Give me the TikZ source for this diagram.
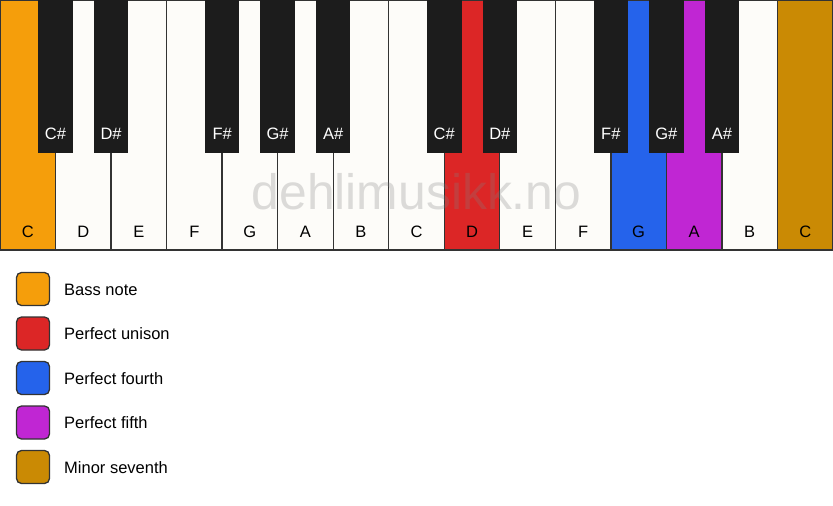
\documentclass[tikz,border=0pt]{standalone}
\usepackage{fontspec}
\setmainfont{Liberation Sans}
\definecolor{keywhite}{HTML}{FDFCF9}
\definecolor{keyblack}{HTML}{1C1C1C}
\definecolor{keyline}{HTML}{333333}
\definecolor{cbass}{HTML}{F59E0B}
\definecolor{cunison}{HTML}{DC2626}
\definecolor{cfourth}{HTML}{2563EB}
\definecolor{cfifth}{HTML}{C026D3}
\definecolor{cseventh}{HTML}{CA8A04}
\tikzset{
  whitekey/.style={draw=keyline, line width=1.3pt, fill=keywhite, rectangle, inner sep=0pt, outer sep=0pt,
    minimum width=55.533pt, minimum height=250pt, anchor=north west},
  blackkey/.style={fill=keyblack, rectangle, inner sep=0pt, outer sep=0pt,
    minimum width=34.5pt, minimum height=153pt, anchor=north},
  wlabel/.style={font=\fontsize{16.5}{19}\selectfont, text=black, anchor=base, inner sep=0pt},
  blabel/.style={font=\fontsize{16.5}{19}\selectfont, text=white, anchor=base, inner sep=0pt},
  legbox/.style={draw=keyline, line width=1.3pt, rounded corners=5pt, rectangle, inner sep=0pt,
    minimum width=33pt, minimum height=33pt},
  legtext/.style={font=\fontsize{16.5}{19}\selectfont, anchor=west, inner sep=0pt},
}
\begin{document}
\begin{tikzpicture}[x=1pt,y=-1pt]
\useasboundingbox (0,0) rectangle (833,506);
\fill[white] (0,0) rectangle (833,506);
% white keys
\def\kw{55.533}
\foreach \n/\lab/\col [count=\i from 0] in {C/C/cbass, D/D/keywhite, E/E/keywhite, F/F/keywhite, G/G/keywhite, A/A/keywhite, B/B/keywhite,
  C2/C/keywhite, D2/D/cunison, E2/E/keywhite, F2/F/keywhite, G2/G/cfourth, A2/A/cfifth, B2/B/keywhite, C3/C/cseventh} {
  \node[whitekey, fill=\col] (w\n) at (\i*\kw, 0) {};
  \node[wlabel] (l\n) at (\i*\kw+\kw/2, 237) {\lab};
}
% black keys
\foreach \n/\lab/\pos in {Cs/C\#/1, Ds/D\#/2, Fs/F\#/4, Gs/G\#/5, As/A\#/6, Cs2/C\#/8, Ds2/D\#/9, Fs2/F\#/11, Gs2/G\#/12, As2/A\#/13} {
  \node[blackkey] (b\n) at (\pos*\kw, 0) {};
  \node[blabel] (bl\n) at (\pos*\kw, 139.5) {\lab};
}
% watermark
\node[font=\fontsize{49.8}{58}\selectfont, text=gray, text opacity=0.27, anchor=base, inner sep=0pt] (wm) at (416.5, 209) {dehlimusikk.no};
% legend
\foreach \n/\col/\txt [count=\j from 0] in {bass/cbass/Bass note, unison/cunison/Perfect unison, fourth/cfourth/Perfect fourth,
  fifth/cfifth/Perfect fifth, seventh/cseventh/Minor seventh} {
  \node[legbox, fill=\col] (g\n) at (33, 289+\j*44.5) {};
  \node[legtext] (t\n) at (64, 289.5+\j*44.5) {\txt};
}
\end{tikzpicture}
\end{document}
